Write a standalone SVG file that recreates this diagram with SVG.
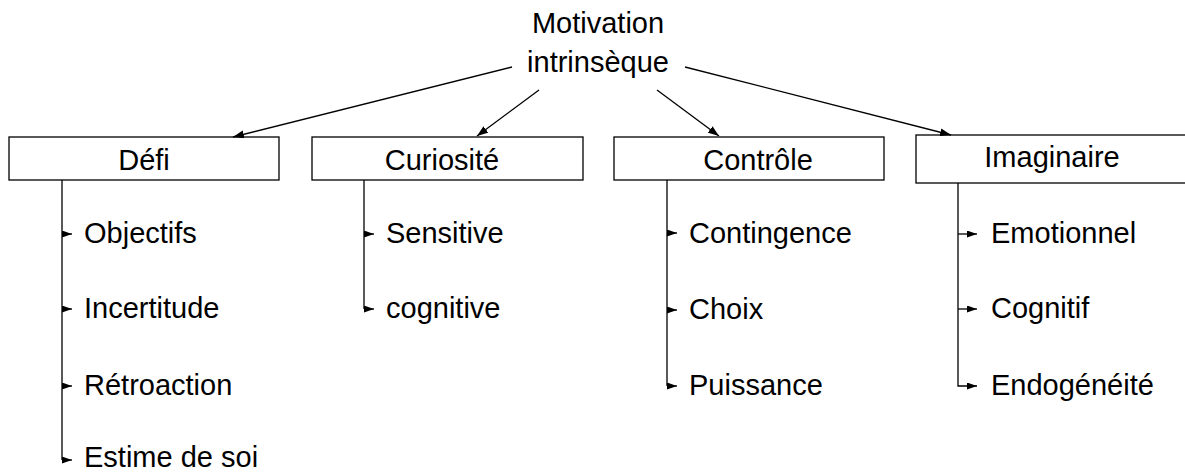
<svg xmlns="http://www.w3.org/2000/svg" width="1185" height="474" viewBox="0 0 1185 474">
<style>
text{font-family:"Liberation Sans",Arial,sans-serif;font-size:29px;fill:#000}
.c{text-anchor:middle}
.box{fill:#fff;stroke:#000;stroke-width:1.3}
.ln{fill:none;stroke:#000;stroke-width:1.3}
.top{marker-end:url(#big)}
.sub{marker-end:url(#small)}
</style>
<defs>
<marker id="big" markerUnits="userSpaceOnUse" markerWidth="11" markerHeight="8" refX="11" refY="4" orient="auto">
<path d="M0,0 L11,4 L0,8 z" fill="#000"/>
</marker>
<marker id="small" markerUnits="userSpaceOnUse" markerWidth="10" markerHeight="7" refX="10" refY="3.5" orient="auto">
<path d="M0,0 L10,3.5 L0,7 z" fill="#000"/>
</marker>
</defs>
<g id="root">
<text class="c" x="598" y="33">Motivation</text>
<text class="c" x="598" y="72">intrinsèque</text>
</g>
<g id="defi">
<rect class="box" x="9" y="137" width="270" height="43"/>
<text class="c" x="144" y="170">Défi</text>
<text x="84" y="243">Objectifs</text>
<text x="84" y="318">Incertitude</text>
<text x="84" y="395">Rétroaction</text>
<text x="84" y="467">Estime de soi</text>
</g>
<g id="curiosite">
<rect class="box" x="312" y="137" width="271" height="43"/>
<text class="c" x="442" y="170">Curiosité</text>
<text x="386" y="243">Sensitive</text>
<text x="386" y="318">cognitive</text>
</g>
<g id="controle">
<rect class="box" x="614" y="137" width="270" height="43"/>
<text class="c" x="758" y="170">Contrôle</text>
<text x="689" y="243">Contingence</text>
<text x="689" y="319">Choix</text>
<text x="689" y="395">Puissance</text>
</g>
<g id="imaginaire">
<rect class="box" x="916" y="135" width="280" height="48"/>
<text class="c" x="1052" y="167">Imaginaire</text>
<text x="991" y="243">Emotionnel</text>
<text x="991" y="318">Cognitif</text>
<text x="991" y="395">Endogénéité</text>
</g>
<g id="connectors">
<path class="ln top" d="M512,67 L233,137"/>
<path class="ln top" d="M539,90 L477,136"/>
<path class="ln top" d="M657,90 L719,136"/>
<path class="ln top" d="M685,67 L951,135"/>
<path class="ln" d="M62,180 V460"/>
<path class="ln sub" d="M62,234 h10"/>
<path class="ln sub" d="M62,309 h10"/>
<path class="ln sub" d="M62,386 h10"/>
<path class="ln sub" d="M62,460 h10"/>
<path class="ln" d="M364,180 V309"/>
<path class="ln sub" d="M364,234 h10"/>
<path class="ln sub" d="M364,309 h10"/>
<path class="ln" d="M667,180 V386"/>
<path class="ln sub" d="M667,233 h10"/>
<path class="ln sub" d="M667,310 h10"/>
<path class="ln sub" d="M667,386 h10"/>
<path class="ln" d="M958,183 V386 H977" style="marker-end:url(#small)"/>
<path class="ln sub" d="M958,234 H977"/>
<path class="ln sub" d="M958,309 H977"/>
</g>
</svg>
